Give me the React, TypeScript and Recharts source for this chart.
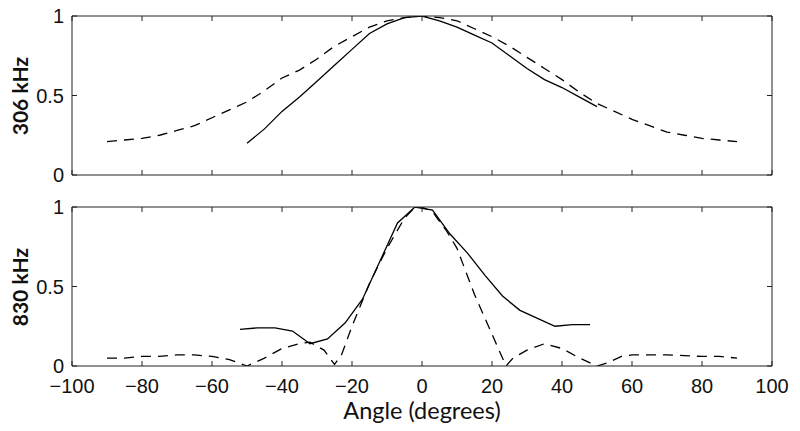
import React from 'react';
import { LineChart, Line, XAxis, YAxis } from 'recharts';

const xTicks = [-100, -80, -60, -40, -20, 0, 20, 40, 60, 80, 100];
const yTicks = [0, 0.5, 1];

// 306 kHz panel
const top306SolidAngles = [-50, -45, -40, -35, -30, -25, -20, -15, -10, -5, 0, 5, 10, 15, 20, 25, 30, 35, 40, 45, 50];
const top306SolidValues = [0.2, 0.29, 0.4, 0.49, 0.59, 0.69, 0.79, 0.89, 0.95, 0.99, 1.0, 0.97, 0.93, 0.88, 0.83, 0.75, 0.67, 0.6, 0.55, 0.49, 0.43];
const top306DashedAngles = [-90, -85, -80, -75, -70, -65, -60, -55, -50, -45, -40, -35, -30, -25, -20, -15, -10, -5, 0, 5, 10, 15, 20, 25, 30, 35, 40, 45, 50, 55, 60, 65, 70, 75, 80, 85, 90];
const top306DashedValues = [0.21, 0.22, 0.23, 0.25, 0.28, 0.31, 0.36, 0.41, 0.46, 0.53, 0.61, 0.66, 0.73, 0.81, 0.87, 0.93, 0.97, 0.99, 1.0, 0.99, 0.97, 0.92, 0.87, 0.81, 0.74, 0.67, 0.6, 0.52, 0.45, 0.4, 0.35, 0.31, 0.27, 0.25, 0.23, 0.22, 0.21];

// 830 kHz panel
const bot830SolidAngles = [-52, -47, -42, -37, -32, -27, -22, -17, -12, -7, -2, 3, 8, 13, 18, 23, 28, 33, 38, 43, 48];
const bot830SolidValues = [0.23, 0.24, 0.24, 0.22, 0.14, 0.17, 0.27, 0.42, 0.66, 0.9, 1.0, 0.98, 0.83, 0.71, 0.57, 0.44, 0.35, 0.3, 0.25, 0.26, 0.26];
const bot830DashedAngles = [-90, -85, -80, -75, -70, -65, -60, -55, -50, -45, -40, -35, -32, -28, -25, -23, -20, -15, -10, -5, -2, 0, 3, 7, 10, 15, 20, 24, 26, 30, 35, 40, 45, 50, 53, 57, 60, 65, 70, 75, 80, 85, 90];
const bot830DashedValues = [0.05, 0.05, 0.06, 0.06, 0.07, 0.07, 0.06, 0.04, 0.0, 0.05, 0.11, 0.14, 0.15, 0.1, 0.01, 0.07, 0.25, 0.52, 0.74, 0.93, 1.0, 1.0, 0.97, 0.85, 0.74, 0.45, 0.2, 0.0, 0.05, 0.1, 0.14, 0.11, 0.05, 0.0, 0.02, 0.06, 0.07, 0.07, 0.07, 0.065, 0.06, 0.06, 0.05];

const toPts = (a: number[], v: number[]) => a.map((x, i) => ({ angle: x, value: v[i] }));

const fmtX = (v: number) => (v < 0 ? '\u2212' + Math.abs(v) : String(v));
const blank = () => '';
const tickFont = { fontFamily: 'Liberation Sans, Arial, sans-serif', fontSize: 20, fill: '#111' };
const axisColor = '#222';

function Panel({ solid, dashed, showX, height, margin }: any) {
  return (
    <LineChart width={800} height={height} margin={margin}>
      <XAxis
        xAxisId="b"
        type="number"
        dataKey="angle"
        domain={[-100, 100]}
        ticks={xTicks}
        height={1}
        tickSize={-5}
        tickMargin={showX ? 18 : 0}
        tickFormatter={showX ? fmtX : blank}
        tick={tickFont}
        stroke={axisColor}
        allowDataOverflow
        interval={0}
      />
      <XAxis
        xAxisId="t"
        orientation="top"
        type="number"
        dataKey="angle"
        domain={[-100, 100]}
        ticks={xTicks}
        height={1}
        tickSize={-5}
        tickFormatter={blank}
        tick={tickFont}
        stroke={axisColor}
        allowDataOverflow
        interval={0}
      />
      <YAxis
        yAxisId="l"
        type="number"
        domain={[0, 1]}
        ticks={yTicks}
        width={1}
        tickSize={-5}
        tickMargin={13}
        tick={tickFont}
        stroke={axisColor}
        allowDataOverflow
        interval={0}
      />
      <YAxis
        yAxisId="r"
        orientation="right"
        type="number"
        domain={[0, 1]}
        ticks={yTicks}
        width={1}
        tickSize={-5}
        tickFormatter={blank}
        tick={tickFont}
        stroke={axisColor}
        allowDataOverflow
        interval={0}
      />
      <Line
        xAxisId="b"
        yAxisId="l"
        data={solid}
        dataKey="value"
        stroke="#000"
        strokeWidth={1.3}
        dot={false}
        isAnimationActive={false}
        type="linear"
      />
      <Line
        xAxisId="b"
        yAxisId="l"
        data={dashed}
        dataKey="value"
        stroke="#000"
        strokeWidth={1.3}
        strokeDasharray="10 7"
        dot={false}
        isAnimationActive={false}
        type="linear"
      />
    </LineChart>
  );
}

export default function App() {
  const titleStyle: React.CSSProperties = {
    position: 'absolute',
    fontFamily: 'Lato, Open Sans, sans-serif',
    fontWeight: 'bold',
    fontSize: 21,
    color: '#111',
    transform: 'translate(-50%, -50%) rotate(-90deg)',
    whiteSpace: 'nowrap',
  };
  return (
    <div style={{ position: 'absolute', left: 0, top: 0, width: 800, height: 431, background: '#fff' }}>
      <div style={{ position: 'absolute', left: 0, top: 0 }}>
        <Panel
          solid={toPts(top306SolidAngles, top306SolidValues)}
          dashed={toPts(top306DashedAngles, top306DashedValues)}
          showX={false}
          height={190}
          margin={{ top: 15, right: 27, bottom: 14, left: 71 }}
        />
      </div>
      <div style={{ position: 'absolute', left: 0, top: 190 }}>
        <Panel
          solid={toPts(bot830SolidAngles, bot830SolidValues)}
          dashed={toPts(bot830DashedAngles, bot830DashedValues)}
          showX={true}
          height={241}
          margin={{ top: 16, right: 27, bottom: 64, left: 71 }}
        />
      </div>
      <div style={{ ...titleStyle, left: 19, top: 96 }}>306 kHz</div>
      <div style={{ ...titleStyle, left: 19, top: 287 }}>830 kHz</div>
      <div
        style={{
          position: 'absolute',
          left: 422,
          top: 410,
          transform: 'translate(-50%, -50%)',
          fontFamily: 'Lato, Open Sans, sans-serif',
          fontSize: 23.5,
          color: '#111',
          whiteSpace: 'nowrap',
        }}
      >
        Angle (degrees)
      </div>
    </div>
  );
}
